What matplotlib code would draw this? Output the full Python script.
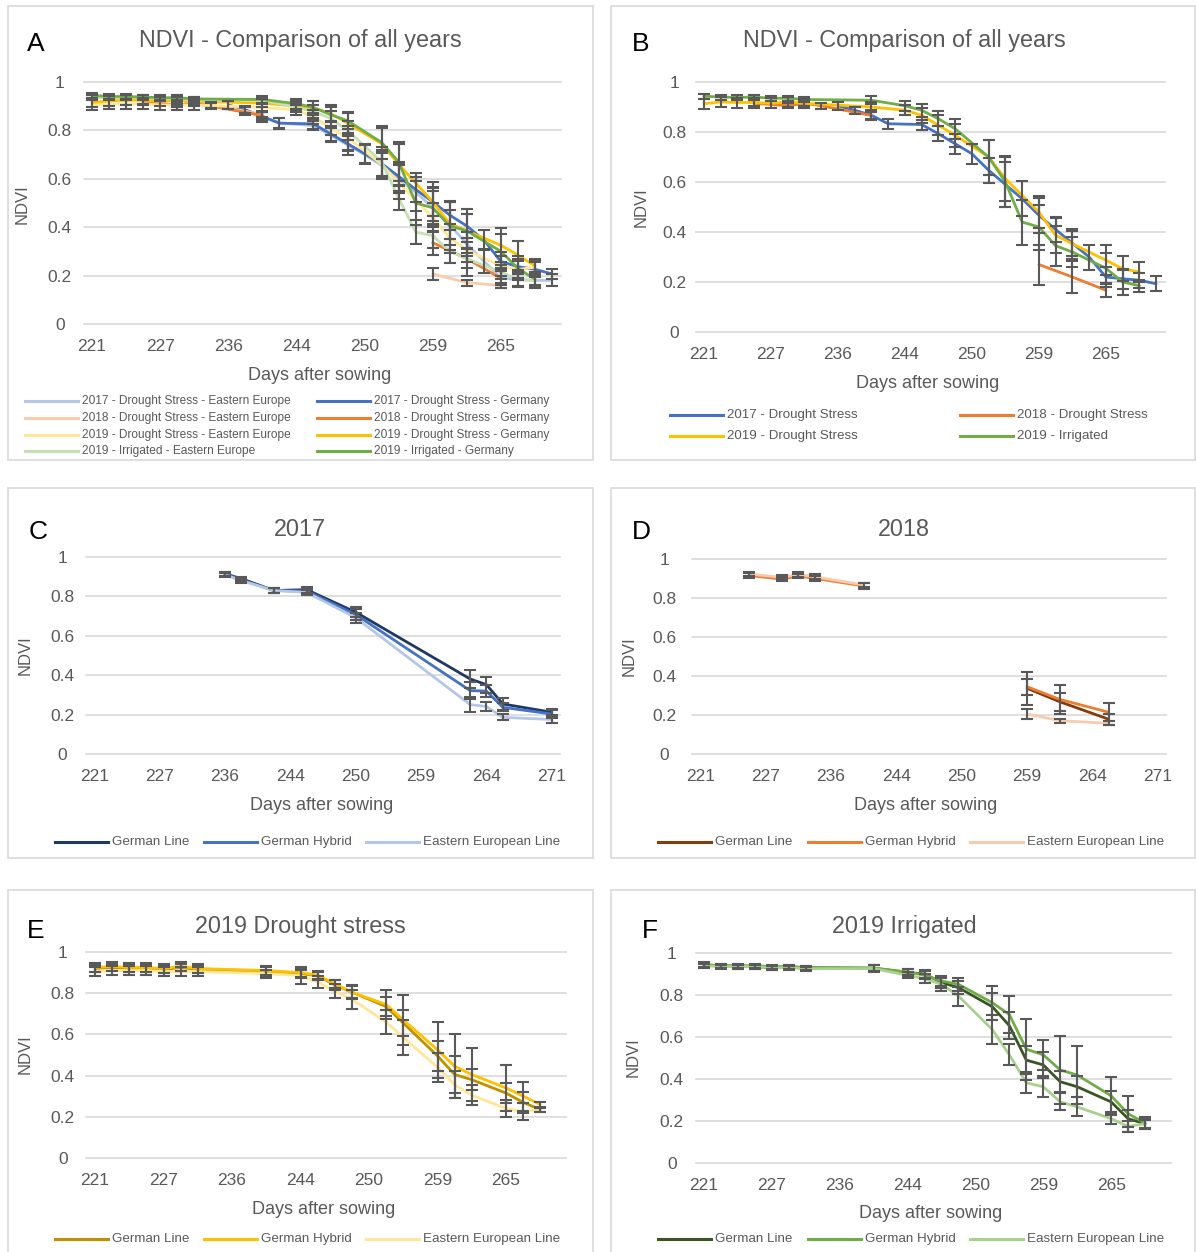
import numpy as np
import matplotlib
matplotlib.use('Agg')
import matplotlib.pyplot as plt
from matplotlib.lines import Line2D
from matplotlib.patches import Rectangle

plt.rcParams['font.family'] = ['Liberation Sans', 'DejaVu Sans']

W, H = 1196, 1252
GRID = '#D9D9D9'
TXT = '#595959'
ERR = '#595959'

# day labels on the category axis (one label every 4 sampling dates)
ticks_28 = ['221', '227', '236', '244', '250', '259', '265']
ticks_29 = ['221', '227', '236', '244', '250', '259', '264', '271']

# sampling dates as index on the category axis
idx17 = [8, 9, 10, 11, 13, 14, 15, 16, 17, 18, 19, 20, 21, 22, 23, 24, 25, 26, 27]
idx18a = [3, 5, 6, 7, 10]
idx18b = [20, 22, 24]
idx19ds = [0, 1, 2, 3, 4, 5, 6, 10, 12, 13, 14, 15, 17, 18, 20, 21, 22, 24, 25, 26]
idx19ir = [0, 1, 2, 3, 4, 5, 6, 10, 12, 13, 14, 15, 17, 18, 19, 20, 21, 22, 24, 25, 26]
idx_c = [8, 9, 11, 13, 16, 23, 24, 25, 28]
idx_d1 = [3, 5, 6, 7, 10]
idx_d2 = [20, 22, 25]

# ---- A: all years, by origin ----
a17_ee = [0.905, 0.88, 0.855, 0.83, 0.82, 0.78, 0.74, 0.70, 0.655, 0.60, 0.545, 0.48, 0.41, 0.33, 0.26, 0.19, 0.183, 0.18, 0.18]
a17_ee_err = [0.015, 0.015, 0.02, 0.02, 0.02, 0.03, 0.04, 0.04, 0.05, 0.06, 0.08, 0.07, 0.06, 0.05, 0.05, 0.03, 0.03, 0.03, 0.025]
a17_de = [0.905, 0.885, 0.858, 0.83, 0.827, 0.786, 0.745, 0.704, 0.663, 0.61, 0.556, 0.505, 0.45, 0.405, 0.347, 0.258, 0.237, 0.226, 0.207]
a17_de_err = [0.015, 0.015, 0.02, 0.023, 0.02, 0.03, 0.03, 0.04, 0.05, 0.06, 0.05, 0.06, 0.06, 0.05, 0.04, 0.04, 0.03, 0.03, 0.02]
a18_ee_1 = [0.92, 0.905, 0.918, 0.905, 0.866]
a18_ee_1_err = [0.012, 0.01, 0.012, 0.012, 0.012]
a18_ee_2 = [0.207, 0.171, 0.159]
a18_ee_2_err = [0.025, 0.012, 0.01]
a18_de_1 = [0.915, 0.905, 0.912, 0.90, 0.862]
a18_de_1_err = [0.012, 0.01, 0.012, 0.012, 0.015]
a18_de_2 = [0.336, 0.27, 0.189]
a18_de_2_err = [0.05, 0.07, 0.04]
a19ds_ee = [0.905, 0.91, 0.91, 0.91, 0.905, 0.905, 0.905, 0.895, 0.885, 0.855, 0.81, 0.77, 0.66, 0.585, 0.44, 0.355, 0.305, 0.24, 0.225, 0.235]
a19ds_ee_err = [0.02, 0.02, 0.02, 0.02, 0.02, 0.02, 0.02, 0.015, 0.02, 0.03, 0.03, 0.05, 0.06, 0.07, 0.06, 0.06, 0.05, 0.04, 0.035, 0.03]
a19ds_de = [0.915, 0.922, 0.925, 0.925, 0.92, 0.925, 0.92, 0.913, 0.90, 0.893, 0.87, 0.83, 0.745, 0.66, 0.505, 0.415, 0.385, 0.325, 0.285, 0.24]
a19ds_de_err = [0.02, 0.02, 0.02, 0.02, 0.02, 0.02, 0.02, 0.015, 0.02, 0.03, 0.035, 0.04, 0.065, 0.085, 0.08, 0.09, 0.07, 0.07, 0.06, 0.03]
a19ir_ee = [0.935, 0.935, 0.935, 0.935, 0.93, 0.93, 0.925, 0.925, 0.895, 0.878, 0.85, 0.80, 0.67, 0.52, 0.38, 0.365, 0.30, 0.27, 0.215, 0.183, 0.18]
a19ir_ee_err = [0.01, 0.01, 0.01, 0.01, 0.01, 0.01, 0.01, 0.015, 0.02, 0.025, 0.03, 0.04, 0.06, 0.05, 0.05, 0.05, 0.05, 0.04, 0.03, 0.025, 0.02]
a19ir_de = [0.945, 0.94, 0.94, 0.938, 0.935, 0.935, 0.93, 0.928, 0.91, 0.895, 0.865, 0.84, 0.75, 0.67, 0.50, 0.48, 0.405, 0.385, 0.30, 0.23, 0.185]
a19ir_de_err = [0.01, 0.01, 0.01, 0.01, 0.01, 0.01, 0.01, 0.015, 0.02, 0.025, 0.03, 0.035, 0.07, 0.08, 0.09, 0.08, 0.1, 0.09, 0.07, 0.05, 0.03]

# ---- B: all years, pooled ----
b17 = [0.905, 0.887, 0.867, 0.833, 0.83, 0.793, 0.753, 0.713, 0.647, 0.59, 0.533, 0.467, 0.41, 0.355, 0.30, 0.22, 0.213, 0.207, 0.193]
b17_err = [0.015, 0.015, 0.02, 0.02, 0.02, 0.03, 0.04, 0.04, 0.05, 0.09, 0.07, 0.07, 0.05, 0.05, 0.05, 0.04, 0.04, 0.03, 0.03]
b18_1 = [0.915, 0.905, 0.915, 0.905, 0.866]
b18_1_err = [0.012, 0.01, 0.012, 0.012, 0.015]
b18_2 = [0.27, 0.22, 0.167]
b18_2_err = [0.08, 0.065, 0.025]
b19ds = [0.913, 0.92, 0.918, 0.918, 0.915, 0.92, 0.915, 0.90, 0.887, 0.867, 0.827, 0.787, 0.70, 0.613, 0.48, 0.387, 0.353, 0.287, 0.253, 0.24]
b19ds_err = [0.02, 0.02, 0.02, 0.02, 0.02, 0.02, 0.02, 0.02, 0.02, 0.03, 0.04, 0.045, 0.07, 0.09, 0.065, 0.07, 0.06, 0.06, 0.05, 0.04]
b19ir = [0.943, 0.94, 0.938, 0.94, 0.935, 0.935, 0.93, 0.927, 0.905, 0.887, 0.853, 0.813, 0.70, 0.60, 0.44, 0.42, 0.345, 0.32, 0.255, 0.20, 0.185]
b19ir_err = [0.01, 0.01, 0.01, 0.01, 0.01, 0.01, 0.01, 0.015, 0.02, 0.025, 0.03, 0.04, 0.07, 0.1, 0.09, 0.09, 0.08, 0.06, 0.06, 0.05, 0.025]

# ---- C: 2017 ----
c_gl = [0.915, 0.89, 0.83, 0.834, 0.72, 0.381, 0.352, 0.254, 0.212]
c_gl_err = [0.01, 0.01, 0.015, 0.015, 0.025, 0.045, 0.04, 0.03, 0.015]
c_gh = [0.915, 0.885, 0.83, 0.827, 0.708, 0.322, 0.319, 0.237, 0.203]
c_gh_err = [0.01, 0.01, 0.015, 0.015, 0.03, 0.045, 0.03, 0.02, 0.02]
c_ee = [0.91, 0.88, 0.83, 0.82, 0.692, 0.251, 0.241, 0.186, 0.175]
c_ee_err = [0.01, 0.01, 0.015, 0.015, 0.025, 0.04, 0.025, 0.015, 0.02]

# ---- D: 2018 ----
d_gl_2 = [0.337, 0.268, 0.178]
d_gl_2_err = [0.085, 0.045, 0.027]
d_gh_1 = [0.915, 0.897, 0.913, 0.901, 0.862]
d_gh_1_err = [0.012, 0.01, 0.012, 0.012, 0.015]
d_gh_2 = [0.345, 0.28, 0.214]
d_gh_2_err = [0.04, 0.074, 0.045]
d_ee_1 = [0.923, 0.906, 0.921, 0.909, 0.867]
d_ee_1_err = [0.012, 0.01, 0.012, 0.012, 0.012]
d_ee_2 = [0.205, 0.171, 0.157]
d_ee_2_err = [0.025, 0.01, 0.01]

# ---- E: 2019 drought stress ----
e_gl = [0.92, 0.925, 0.92, 0.92, 0.915, 0.925, 0.915, 0.905, 0.895, 0.885, 0.84, 0.805, 0.735, 0.655, 0.495, 0.405, 0.38, 0.315, 0.27, 0.235]
e_gl_err = [0.015, 0.015, 0.015, 0.015, 0.015, 0.015, 0.015, 0.02, 0.02, 0.02, 0.025, 0.03, 0.045, 0.065, 0.075, 0.09, 0.05, 0.05, 0.05, 0.01]
e_gh = [0.925, 0.93, 0.925, 0.925, 0.92, 0.93, 0.92, 0.91, 0.90, 0.888, 0.845, 0.805, 0.745, 0.67, 0.525, 0.445, 0.405, 0.34, 0.30, 0.26]
e_gh_err = [0.02, 0.02, 0.02, 0.02, 0.02, 0.02, 0.02, 0.02, 0.02, 0.02, 0.02, 0.035, 0.07, 0.12, 0.135, 0.155, 0.13, 0.11, 0.07, 0.01]
e_ee = [0.905, 0.91, 0.91, 0.91, 0.905, 0.905, 0.905, 0.895, 0.885, 0.855, 0.81, 0.77, 0.66, 0.585, 0.44, 0.355, 0.305, 0.24, 0.225, 0.235]
e_ee_err = [0.02, 0.02, 0.02, 0.02, 0.02, 0.02, 0.02, 0.02, 0.04, 0.03, 0.035, 0.045, 0.06, 0.085, 0.07, 0.065, 0.05, 0.04, 0.04, 0.01]

# ---- F: 2019 irrigated ----
f_gl = [0.94, 0.94, 0.935, 0.935, 0.93, 0.935, 0.93, 0.928, 0.907, 0.90, 0.86, 0.835, 0.744, 0.654, 0.49, 0.467, 0.387, 0.363, 0.291, 0.211, 0.187]
f_gl_err = [0.01, 0.01, 0.01, 0.01, 0.01, 0.01, 0.01, 0.015, 0.015, 0.02, 0.025, 0.03, 0.065, 0.065, 0.065, 0.06, 0.05, 0.05, 0.05, 0.04, 0.025]
f_gh = [0.945, 0.94, 0.94, 0.94, 0.935, 0.935, 0.93, 0.928, 0.91, 0.894, 0.867, 0.851, 0.763, 0.707, 0.542, 0.515, 0.443, 0.419, 0.32, 0.235, 0.19]
f_gh_err = [0.01, 0.01, 0.01, 0.01, 0.01, 0.01, 0.01, 0.015, 0.015, 0.02, 0.025, 0.03, 0.08, 0.09, 0.145, 0.07, 0.16, 0.14, 0.09, 0.085, 0.03]
f_ee = [0.94, 0.935, 0.935, 0.935, 0.93, 0.93, 0.925, 0.926, 0.894, 0.878, 0.851, 0.795, 0.635, 0.515, 0.382, 0.363, 0.291, 0.267, 0.211, 0.174, 0.187]
f_ee_err = [0.01, 0.01, 0.01, 0.01, 0.01, 0.01, 0.01, 0.015, 0.015, 0.02, 0.03, 0.045, 0.07, 0.05, 0.05, 0.05, 0.04, 0.045, 0.025, 0.025, 0.02]

BLUE, BLUE_L, NAVY = '#4472C4', '#B4C7E7', '#203864'
ORANGE, ORANGE_L, BROWN = '#ED7D31', '#F8CBAD', '#843C0C'
GOLD, GOLD_L, GOLD_D = '#FFC000', '#FFE699', '#BF9000'
GREEN, GREEN_L, GREEN_A, GREEN_D = '#70AD47', '#A9D18E', '#C5E0B4', '#375623'

fig = plt.figure(figsize=(W / 100, H / 100), dpi=100)


def px(x, y):
    return x / W, 1 - y / H


def panel(frame, plot, n_cat, ticks, ypad):
    l, t, r, b = frame
    fig.add_artist(Rectangle(px(l, b), (r - l) / W, (b - t) / H, transform=fig.transFigure,
                             fill=False, ec=GRID, lw=1.2))
    l, t, r, b = plot
    ax = fig.add_axes([l / W, 1 - b / H, (r - l) / W, (b - t) / H])
    ax.set_xlim(-0.5, n_cat - 0.5)
    ax.set_ylim(0, 1)
    ax.set_yticks(np.arange(0, 1.01, 0.2))
    ax.set_yticklabels(['0', '0.2', '0.4', '0.6', '0.8', '1'])
    ax.set_xticks(range(0, 4 * len(ticks), 4))
    ax.set_xticklabels(ticks)
    ax.grid(axis='y', color=GRID, lw=1.2)
    for gl in ax.get_ygridlines():
        gl.set_clip_on(False)
    ax.set_axisbelow(True)
    for s in ax.spines.values():
        s.set_visible(False)
    ax.tick_params(length=0, labelsize=12.5, labelcolor=TXT)
    ax.tick_params(axis='y', pad=ypad)
    ax.tick_params(axis='x', pad=11)
    for lab in ax.get_yticklabels():
        lab.set_horizontalalignment('center')
    return ax


def series(ax, idx, vals, err, color):
    ax.plot(idx, vals, color=color, lw=2.0, solid_joinstyle='round', solid_capstyle='round', zorder=2)
    ax.errorbar(idx, vals, yerr=err, fmt='none', ecolor=ERR, elinewidth=1.5,
                capsize=4, capthick=1.5, zorder=3)


def labels(letter, lxy, title, txy, nxy, dxy):
    fig.text(*px(*lxy), letter, fontsize=19, ha='center', va='center', color='black')
    fig.text(*px(*txy), title, fontsize=16.8, ha='center', va='center', color=TXT)
    fig.text(*px(*nxy), 'NDVI', fontsize=12, rotation=90, ha='center', va='center', color=TXT)
    fig.text(*px(*dxy), 'Days after sowing', fontsize=13, ha='center', va='center', color=TXT)


def key(entries, fs):
    for x0, y, color, text in entries:
        fig.add_artist(Line2D([x0 / W, (x0 + 53) / W], [1 - y / H] * 2, color=color, lw=2.2,
                              transform=fig.transFigure))
        fig.text((x0 + 57) / W, 1 - y / H, text, fontsize=fs, color=TXT, va='center')


# A
ax = panel((8, 6, 593, 460), (83.5, 82, 560.5, 324), 28, ticks_28, 17)
series(ax, idx17, a17_ee, a17_ee_err, BLUE_L)
series(ax, idx17, a17_de, a17_de_err, BLUE)
series(ax, idx18a, a18_ee_1, a18_ee_1_err, ORANGE_L)
series(ax, idx18b, a18_ee_2, a18_ee_2_err, ORANGE_L)
series(ax, idx18a, a18_de_1, a18_de_1_err, ORANGE)
series(ax, idx18b, a18_de_2, a18_de_2_err, ORANGE)
series(ax, idx19ds, a19ds_ee, a19ds_ee_err, GOLD_L)
series(ax, idx19ds, a19ds_de, a19ds_de_err, GOLD)
series(ax, idx19ir, a19ir_ee, a19ir_ee_err, GREEN_A)
series(ax, idx19ir, a19ir_de, a19ir_de_err, GREEN)
labels('A', (36, 44), 'NDVI - Comparison of all years', (300, 41), (22, 204), (320, 375))
key([(25, 401, BLUE_L, '2017 - Drought Stress - Eastern Europe'),
     (317, 401, BLUE, '2017 - Drought Stress - Germany'),
     (25, 418, ORANGE_L, '2018 - Drought Stress - Eastern Europe'),
     (317, 418, ORANGE, '2018 - Drought Stress - Germany'),
     (25, 435, GOLD_L, '2019 - Drought Stress - Eastern Europe'),
     (317, 435, GOLD, '2019 - Drought Stress - Germany'),
     (25, 451, GREEN_A, '2019 - Irrigated - Eastern Europe'),
     (317, 451, GREEN, '2019 - Irrigated - Germany')], 8.6)

# B
ax = panel((611, 6, 1195, 460), (695.5, 82, 1164.5, 332), 28, ticks_28, 15)
series(ax, idx17, b17, b17_err, BLUE)
series(ax, idx18a, b18_1, b18_1_err, ORANGE)
series(ax, idx18b, b18_2, b18_2_err, ORANGE)
series(ax, idx19ds, b19ds, b19ds_err, GOLD)
series(ax, idx19ir, b19ir, b19ir_err, GREEN)
labels('B', (641, 44), 'NDVI - Comparison of all years', (904, 41), (641, 207), (928, 383))
key([(670, 415, BLUE, '2017 - Drought Stress'),
     (960, 415, ORANGE, '2018 - Drought Stress'),
     (670, 436, GOLD, '2019 - Drought Stress'),
     (960, 436, GREEN, '2019 - Irrigated')], 9.6)

# C
ax = panel((8, 488, 593, 858), (86, 557, 560, 754), 29, ticks_29, 17)
series(ax, idx_c, c_gl, c_gl_err, NAVY)
series(ax, idx_c, c_gh, c_gh_err, BLUE)
series(ax, idx_c, c_ee, c_ee_err, BLUE_L)
labels('C', (38, 532), '2017', (300, 530), (25, 655), (322, 806))
key([(55, 842, NAVY, 'German Line'), (204, 842, BLUE, 'German Hybrid'),
     (366, 842, BLUE_L, 'Eastern European Line')], 9.6)

# D
ax = panel((611, 488, 1195, 858), (692, 559, 1166, 754), 29, ticks_29, 20)
series(ax, idx_d2, d_gl_2, d_gl_2_err, BROWN)
series(ax, idx_d1, d_gh_1, d_gh_1_err, ORANGE)
series(ax, idx_d2, d_gh_2, d_gh_2_err, ORANGE)
series(ax, idx_d1, d_ee_1, d_ee_1_err, ORANGE_L)
series(ax, idx_d2, d_ee_2, d_ee_2_err, ORANGE_L)
labels('D', (641, 532), '2018', (904, 530), (629, 656), (926, 806))
key([(658, 842, BROWN, 'German Line'), (808, 842, ORANGE, 'German Hybrid'),
     (970, 842, ORANGE_L, 'Eastern European Line')], 9.6)

# E
ax = panel((8, 890, 593, 1262), (86.5, 952, 566, 1158), 28, ticks_28, 17)
series(ax, idx19ds, e_gl, e_gl_err, GOLD_D)
series(ax, idx19ds, e_gh, e_gh_err, GOLD)
series(ax, idx19ds, e_ee, e_ee_err, GOLD_L)
labels('E', (36, 931), '2019 Drought stress', (300, 927), (25, 1054), (324, 1210))
key([(55, 1239, GOLD_D, 'German Line'), (204, 1239, GOLD, 'German Hybrid'),
     (366, 1239, GOLD_L, 'Eastern European Line')], 9.6)

# F
ax = panel((611, 890, 1195, 1262), (695.5, 953, 1170.5, 1163), 28, ticks_28, 17)
series(ax, idx19ir, f_gl, f_gl_err, GREEN_D)
series(ax, idx19ir, f_gh, f_gh_err, GREEN)
series(ax, idx19ir, f_ee, f_ee_err, GREEN_L)
labels('F', (650, 931), '2019 Irrigated', (904, 927), (633, 1057), (931, 1214))
key([(658, 1239, GREEN_D, 'German Line'), (808, 1239, GREEN, 'German Hybrid'),
     (970, 1239, GREEN_L, 'Eastern European Line')], 9.6)

fig.savefig('out.png', dpi=100, facecolor='white')
